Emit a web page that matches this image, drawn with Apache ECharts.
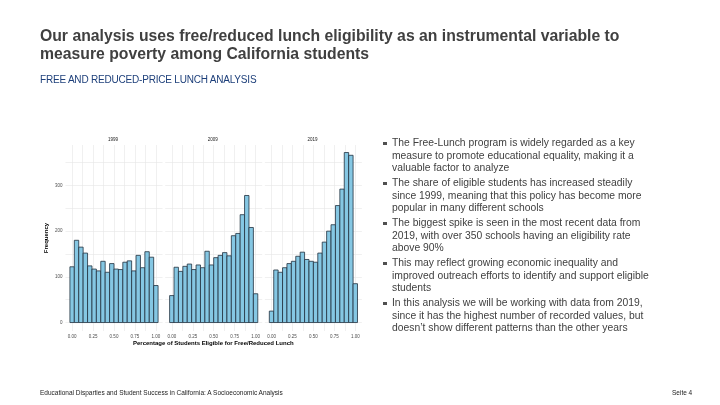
<!DOCTYPE html>
<html>
<head>
<meta charset="utf-8">
<script src="https://cdn.jsdelivr.net/npm/echarts@6/dist/echarts.min.js"></script>
<style>
  html, body { margin:0; padding:0; background:#fff; }
  body { width:720px; height:405px; position:relative; overflow:hidden; font-family:"Liberation Sans", Arial, sans-serif; }
  #chart { position:absolute; left:0; top:0; width:720px; height:405px; }
  .t { position:absolute; white-space:nowrap; }
  #title { left:40px; top:27px; font-size:15.75px; font-weight:bold; color:#404040; line-height:17.5px; }
  #sub { left:40px; top:74px; font-size:10px; color:#1d3f7a; letter-spacing:-0.2px; }
  .b { position:absolute; left:392px; font-size:10.35px; color:#404040; line-height:12.7px; white-space:nowrap; }
  .b:before { content:""; position:absolute; left:-9px; top:4.5px; width:3.6px; height:3.6px; background:#505050; }
  #foot { left:40px; top:389px; font-size:6.5px; color:#222; }
  #page { left:672px; top:389px; font-size:6.5px; color:#222; }
</style>
</head>
<body>
<div id="chart"></div>
<div class="t" id="title">Our analysis uses free/reduced lunch eligibility as an instrumental variable to<br>measure poverty among California students</div>
<div class="t" id="sub">FREE AND REDUCED-PRICE LUNCH ANALYSIS</div>
<div class="b" style="top:137px">The Free-Lunch program is widely regarded as a key<br>measure to promote educational equality, making it a<br>valuable factor to analyze</div>
<div class="b" style="top:177px">The share of eligible students has increased steadily<br>since 1999, meaning that this policy has become more<br>popular in many different schools</div>
<div class="b" style="top:217px">The biggest spike is seen in the most recent data from<br>2019, with over 350 schools having an eligibility rate<br>above 90%</div>
<div class="b" style="top:257px">This may reflect growing economic inequality and<br>improved outreach efforts to identify and support eligible<br>students</div>
<div class="b" style="top:297px">In this analysis we will be working with data from 2019,<br>since it has the highest number of recorded values, but<br>doesn’t show different patterns than the other years</div>
<div class="t" id="foot">Educational Disparties and Student Success in California: A Socioeconomic Analysis</div>
<div class="t" id="page">Seite 4</div>
<script>
// ---- data ----
const years = ['1999', '2009', '2019'];
const counts1999 = [122, 180, 165, 152, 124, 117, 113, 134, 110, 129, 117, 116, 132, 135, 113, 147, 120, 155, 143, 81];
const counts2009 = [59, 121, 112, 123, 128, 116, 126, 120, 156, 126, 142, 147, 153, 146, 190, 195, 236, 278, 208, 63];
const counts2019 = [25, 115, 110, 120, 129, 134, 145, 154, 138, 134, 132, 152, 176, 200, 214, 256, 292, 372, 366, 85];
const xTickLabels = [0, 0.25, 0.5, 0.75, 1];
const yTickLabels = [0, 100, 200, 300];
const nBins = 20;

// ---- chart ----
const binWidth = 1 / (nBins - 1);
const allCounts = [counts1999, counts2009, counts2019];
const xGridVals = [0, 0.125, 0.25, 0.375, 0.5, 0.625, 0.75, 0.875, 1];
const yGridVals = [0, 50, 100, 150, 200, 250, 300, 350];
const panelLefts = [65.5, 165.2, 264.9];
const panelW = 97;
const gridTop = 145, gridH = 186;

const chart = echarts.init(document.getElementById('chart'), null, {renderer: 'canvas'});

function renderItem(params, api) {
  const x = api.value(0), y = api.value(1);
  const p0 = api.coord([x - binWidth / 2, y]);
  const p1 = api.coord([x + binWidth / 2, 0]);
  return {
    type: 'rect',
    shape: { x: p0[0], y: p0[1], width: p1[0] - p0[0], height: p1[1] - p0[1] },
    style: { fill: '#85c7e3', stroke: '#22313f', lineWidth: 0.8 }
  };
}

const grids = [], xAxes = [], yAxes = [], series = [], graphics = [];
years.forEach((yr, i) => {
  grids.push({ left: panelLefts[i], top: gridTop, width: panelW, height: gridH, containLabel: false });
  xAxes.push({
    type: 'value', gridIndex: i, min: -0.079, max: 1.079,
    axisLine: { show: false },
    axisTick: { show: false, customValues: xGridVals },
    axisLabel: { customValues: xTickLabels, formatter: v => v.toFixed(2), fontSize: 4.5, color: '#4d4d4d', margin: 3, fontFamily: 'Liberation Sans' },
    splitLine: { show: true, lineStyle: { color: '#e6e6e6', width: 0.6 } }
  });
  yAxes.push({
    type: 'value', gridIndex: i, min: -18.5, max: 388.5,
    axisLine: { show: false },
    axisTick: { show: false, customValues: yGridVals },
    axisLabel: { show: i === 0, customValues: yTickLabels, fontSize: 4.5, color: '#4d4d4d', margin: 3, fontFamily: 'Liberation Sans' },
    splitLine: { show: true, lineStyle: { color: '#e6e6e6', width: 0.6 } },
    name: i === 0 ? 'Frequency' : '',
    nameLocation: 'middle', nameRotate: 90, nameGap: 16,
    nameTextStyle: { fontSize: 6, fontWeight: 'bold', color: '#000', fontFamily: 'Liberation Sans' }
  });
  series.push({
    type: 'custom', xAxisIndex: i, yAxisIndex: i,
    renderItem: renderItem,
    encode: { x: 0, y: 1 },
    data: allCounts[i].map((c, k) => [k * binWidth, c]),
    silent: true
  });
  graphics.push({
    type: 'text', left: panelLefts[i] + panelW / 2 - 6, top: 137,
    style: { text: yr, fontSize: 4.5, fill: '#1a1a1a', fontFamily: 'Liberation Sans' }
  });
});
graphics.push({
  type: 'text', left: 133, top: 340,
  style: { text: 'Percentage of Students Eligible for Free/Reduced Lunch', fontSize: 6, fontWeight: 'bold', fill: '#000', fontFamily: 'Liberation Sans' }
});

chart.setOption({
  animation: false,
  grid: grids,
  xAxis: xAxes,
  yAxis: yAxes,
  series: series,
  graphic: graphics
});
</script>
</body>
</html>
